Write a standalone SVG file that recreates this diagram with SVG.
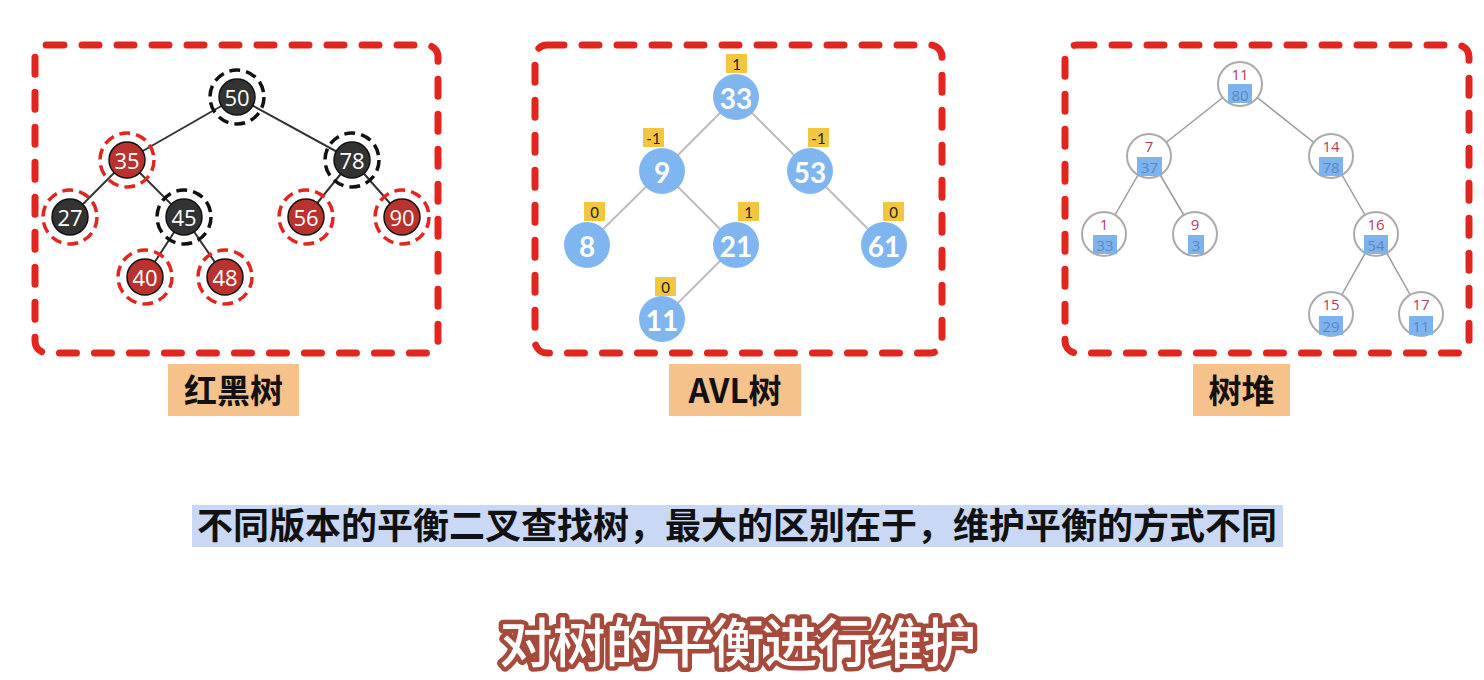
<svg xmlns="http://www.w3.org/2000/svg" width="1484" height="680" viewBox="0 0 1484 680">
<style>
.box{fill:none;stroke:#e1261f;stroke-width:7;stroke-dasharray:17 18;stroke-linecap:round}
.rbe{stroke:#333;stroke-width:2}
.avle{stroke:#bdbdbd;stroke-width:2}
.tre{stroke:#9a9a9a;stroke-width:1.5}
.rbn{stroke:#111;stroke-width:1.5}
.blk{fill:#333}
.red{fill:#b8332e}
.ringb{fill:none;stroke:#111;stroke-width:3.5;stroke-dasharray:11 6}
.ringr{fill:none;stroke:#e1261f;stroke-width:3.5;stroke-dasharray:11 6}
.rbt{fill:#fff;font-family:"Open Sans","Liberation Sans",sans-serif;font-size:22px;text-anchor:middle;dominant-baseline:central}
.avn{fill:#80b6ef}
.avt{fill:#fff;font-family:Lato,"Liberation Sans",sans-serif;font-weight:700;font-size:28px;text-anchor:middle;dominant-baseline:central}
.bal{fill:#f3c63f}
.balt{fill:#222;font-family:Lato,"Liberation Sans",sans-serif;font-size:15px;text-anchor:middle;dominant-baseline:central}
.trn{fill:#fff;stroke:#aaa;stroke-width:2}
.k{fill:#b03a68;font-family:"Open Sans","Liberation Sans",sans-serif;font-size:15px;text-anchor:middle;dominant-baseline:central}
.pr{fill:#7db3ef}
.pt{fill:#5a88be;font-family:"Open Sans","Liberation Sans",sans-serif;font-size:15px;text-anchor:middle;dominant-baseline:central}
.lab{fill:#f6c28b}
.labt{fill:#111;font-family:"Noto Sans CJK SC",sans-serif;font-weight:700;font-size:33px;text-anchor:middle}
</style>

<g id="boxes">
<rect class="box" x="35" y="45" width="403" height="308" rx="12"/>
<rect class="box" x="535" y="45" width="407" height="308" rx="12"/>
<rect class="box" x="1065" y="45" width="404" height="308" rx="12"/>
</g>

<g id="connectors">
<line class="rbe" x1="237" y1="97" x2="127" y2="160"/>
<line class="rbe" x1="237" y1="97" x2="352" y2="160"/>
<line class="rbe" x1="127" y1="160" x2="70" y2="217"/>
<line class="rbe" x1="127" y1="160" x2="184" y2="217"/>
<line class="rbe" x1="352" y1="160" x2="306" y2="217"/>
<line class="rbe" x1="352" y1="160" x2="402" y2="217"/>
<line class="rbe" x1="184" y1="217" x2="145" y2="277"/>
<line class="rbe" x1="184" y1="217" x2="225" y2="277"/>

<line class="avle" x1="736" y1="97" x2="662" y2="171"/>
<line class="avle" x1="736" y1="97" x2="810" y2="171"/>
<line class="avle" x1="662" y1="171" x2="587" y2="245"/>
<line class="avle" x1="662" y1="171" x2="736" y2="245"/>
<line class="avle" x1="810" y1="171" x2="884" y2="245"/>
<line class="avle" x1="736" y1="245" x2="662" y2="319"/>

<line class="tre" x1="1240" y1="84" x2="1149" y2="156"/>
<line class="tre" x1="1240" y1="84" x2="1331" y2="156"/>
<line class="tre" x1="1149" y1="156" x2="1104" y2="234"/>
<line class="tre" x1="1149" y1="156" x2="1195" y2="234"/>
<line class="tre" x1="1331" y1="156" x2="1376" y2="234"/>
<line class="tre" x1="1376" y1="234" x2="1331" y2="314"/>
<line class="tre" x1="1376" y1="234" x2="1421" y2="314"/>
</g>

<!-- Red-black tree -->
<g id="rb50"><circle class="rbn blk" cx="237" cy="97" r="18"/><circle class="ringb" cx="237" cy="97" r="27"/><text class="rbt" x="237" y="97">50</text></g>
<g id="rb35"><circle class="rbn red" cx="127" cy="160" r="18"/><circle class="ringr" cx="127" cy="160" r="27"/><text class="rbt" x="127" y="160">35</text></g>
<g id="rb78"><circle class="rbn blk" cx="352" cy="160" r="18"/><circle class="ringb" cx="352" cy="160" r="27"/><text class="rbt" x="352" y="160">78</text></g>
<g id="rb27"><circle class="rbn blk" cx="70" cy="217" r="18"/><circle class="ringr" cx="70" cy="217" r="27"/><text class="rbt" x="70" y="217">27</text></g>
<g id="rb45"><circle class="rbn blk" cx="184" cy="217" r="18"/><circle class="ringb" cx="184" cy="217" r="27"/><text class="rbt" x="184" y="217">45</text></g>
<g id="rb56"><circle class="rbn red" cx="306" cy="217" r="18"/><circle class="ringr" cx="306" cy="217" r="27"/><text class="rbt" x="306" y="217">56</text></g>
<g id="rb90"><circle class="rbn red" cx="402" cy="217" r="18"/><circle class="ringr" cx="402" cy="217" r="27"/><text class="rbt" x="402" y="217">90</text></g>
<g id="rb40"><circle class="rbn red" cx="145" cy="277" r="18"/><circle class="ringr" cx="145" cy="277" r="27"/><text class="rbt" x="145" y="277">40</text></g>
<g id="rb48"><circle class="rbn red" cx="225" cy="277" r="18"/><circle class="ringr" cx="225" cy="277" r="27"/><text class="rbt" x="225" y="277">48</text></g>

<!-- AVL tree -->
<g id="avl33"><circle class="avn" cx="736" cy="97" r="23"/><text class="avt" x="736" y="98">33</text><rect class="bal" x="726" y="54" width="21" height="19"/><text class="balt" x="736.5" y="63.5">1</text></g>
<g id="avl9"><circle class="avn" cx="662" cy="171" r="23"/><text class="avt" x="662" y="172">9</text><rect class="bal" x="643" y="128" width="21" height="19"/><text class="balt" x="653.5" y="137.5">-1</text></g>
<g id="avl53"><circle class="avn" cx="810" cy="171" r="23"/><text class="avt" x="810" y="172">53</text><rect class="bal" x="808" y="128" width="21" height="19"/><text class="balt" x="818.5" y="137.5">-1</text></g>
<g id="avl8"><circle class="avn" cx="587" cy="245" r="23"/><text class="avt" x="587" y="246">8</text><rect class="bal" x="584" y="202" width="21" height="19"/><text class="balt" x="594.5" y="211.5">0</text></g>
<g id="avl21"><circle class="avn" cx="736" cy="245" r="23"/><text class="avt" x="736" y="246">21</text><rect class="bal" x="738" y="202" width="21" height="19"/><text class="balt" x="748.5" y="211.5">1</text></g>
<g id="avl61"><circle class="avn" cx="884" cy="245" r="23"/><text class="avt" x="884" y="246">61</text><rect class="bal" x="883" y="202" width="21" height="19"/><text class="balt" x="893.5" y="211.5">0</text></g>
<g id="avl11"><circle class="avn" cx="662" cy="319" r="23"/><text class="avt" x="662" y="320">11</text><rect class="bal" x="655" y="277" width="21" height="19"/><text class="balt" x="665.5" y="286.5">0</text></g>

<!-- Treap -->
<g id="tr11"><circle class="trn" cx="1240" cy="84" r="22"/><rect class="pr" x="1228" y="84" width="24" height="19"/><text class="k" x="1240" y="73.5">11</text><text class="pt" x="1240" y="94.5">80</text></g>
<g id="tr7"><circle class="trn" cx="1149" cy="156" r="22"/><rect class="pr" x="1137" y="157" width="25" height="19"/><text class="k" x="1149" y="145.5">7</text><text class="pt" x="1149.5" y="167">37</text></g>
<g id="tr14"><circle class="trn" cx="1331" cy="156" r="22"/><rect class="pr" x="1319" y="157" width="24" height="19"/><text class="k" x="1331" y="145.5">14</text><text class="pt" x="1331" y="167">78</text></g>
<g id="tr1"><circle class="trn" cx="1104" cy="234" r="22"/><rect class="pr" x="1093" y="235" width="24" height="19"/><text class="k" x="1104" y="223.5">1</text><text class="pt" x="1105" y="245">33</text></g>
<g id="tr9"><circle class="trn" cx="1195" cy="234" r="22"/><rect class="pr" x="1188" y="235" width="16" height="19"/><text class="k" x="1195" y="223.5">9</text><text class="pt" x="1196" y="245">3</text></g>
<g id="tr16"><circle class="trn" cx="1376" cy="234" r="22"/><rect class="pr" x="1364" y="235" width="24" height="19"/><text class="k" x="1376" y="223.5">16</text><text class="pt" x="1376" y="245">54</text></g>
<g id="tr15"><circle class="trn" cx="1331" cy="314" r="22"/><rect class="pr" x="1319" y="316" width="24" height="19"/><text class="k" x="1331" y="304">15</text><text class="pt" x="1331" y="326">29</text></g>
<g id="tr17"><circle class="trn" cx="1421" cy="314" r="22"/><rect class="pr" x="1409" y="316" width="24" height="19"/><text class="k" x="1421" y="304">17</text><text class="pt" x="1421" y="326">11</text></g>

<!-- Labels -->
<g id="label-rb"><rect class="lab" x="168" y="364" width="131" height="52"/><text class="labt" x="233.5" y="403">红黑树</text></g>
<g id="label-avl"><rect class="lab" x="669" y="364" width="132" height="52"/><text class="labt" x="735" y="403">AVL树</text></g>
<g id="label-treap"><rect class="lab" x="1193" y="364" width="97" height="52"/><text class="labt" x="1241.5" y="403">树堆</text></g>

<g id="banner">
<rect x="192" y="505" width="1091" height="42" fill="#c9d8f5"/>
<text x="737" y="539" fill="#111" font-family="Noto Sans CJK SC, sans-serif" font-weight="700" font-size="36" text-anchor="middle">不同版本的平衡二叉查找树，最大的区别在于，维护平衡的方式不同</text>
</g>

<g id="caption">
<text x="738" y="663" fill="#fff" stroke="#a64a3b" stroke-width="9" stroke-linejoin="round" paint-order="stroke" font-family="Noto Sans CJK SC, sans-serif" font-weight="500" font-size="53" text-anchor="middle">对树的平衡进行维护</text>
</g>
</svg>
